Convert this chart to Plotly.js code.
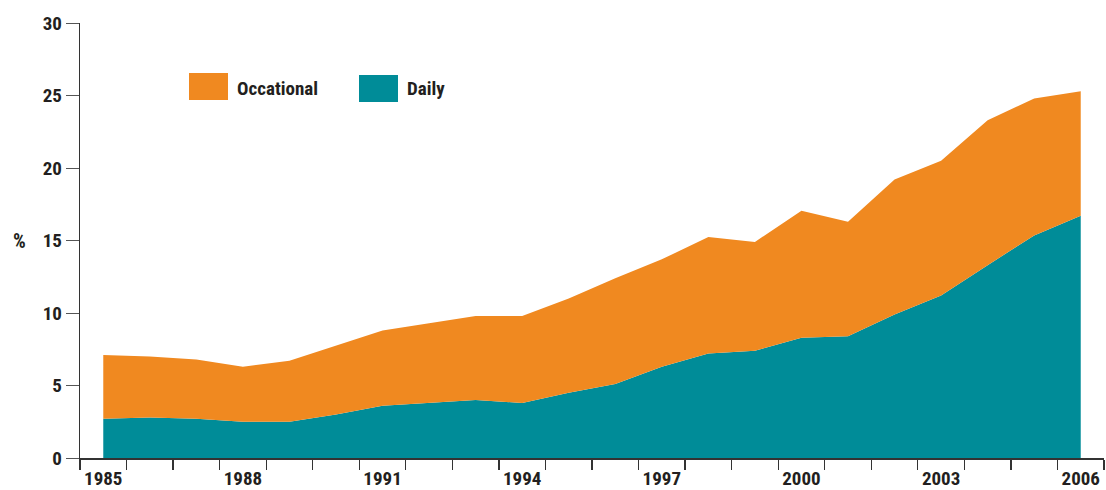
<!DOCTYPE html>
<html>
<head>
<meta charset="utf-8">
<script src="https://cdn.plot.ly/plotly-3.0.1.min.js"></script>
<style>html,body{margin:0;padding:0;background:#fff;}#chart{width:1106px;height:490px;}</style>
</head>
<body>
<div id="chart"></div>
<script>
const years = [1985,1986,1987,1988,1989,1990,1991,1992,1993,1994,1995,1996,1997,1998,1999,2000,2001,2002,2003,2004,2005,2006];
const daily = [2.7,2.8,2.7,2.5,2.5,3.0,3.6,3.8,4.0,3.8,4.5,5.1,6.3,7.2,7.4,8.3,8.4,9.9,11.2,13.3,15.35,16.7];
const occasional = [4.4,4.2,4.1,3.8,4.2,4.75,5.2,5.5,5.8,6.0,6.5,7.3,7.4,8.05,7.5,8.75,7.9,9.3,9.3,10.0,9.45,8.6];
const seriesNames = ["Occational","Daily"];
const xTickLabels = [1985,1988,1991,1994,1997,2000,2003,2006];
const yTicks = [0,5,10,15,20,25,30];

const ORANGE = "rgb(240,137,32)";
const TEAL = "rgb(0,140,152)";
const FONT = "'Liberation Sans Narrow', 'Roboto Condensed', 'DejaVu Sans Condensed', Arial, sans-serif";
const TXT = "#231F20";
const FS = 19;

const traces = [
  {x: years, y: daily, name: seriesNames[1], type: "scatter", mode: "lines", stackgroup: "one",
   line: {width: 0, color: TEAL}, fillcolor: TEAL, showlegend: false, hoverinfo: "x+y"},
  {x: years, y: occasional, name: seriesNames[0], type: "scatter", mode: "lines", stackgroup: "one",
   line: {width: 0, color: ORANGE}, fillcolor: ORANGE, showlegend: false, hoverinfo: "x+y"}
];

const layout = {
  width: 1106, height: 490,
  margin: {l: 80, r: 2, t: 23, b: 32},
  paper_bgcolor: "#fff", plot_bgcolor: "#fff",
  font: {family: FONT, size: FS, color: TXT, weight: "bold"},
  xaxis: {
    range: [1984.5, 2006.5], showgrid: false, zeroline: false,
    tickmode: "array", tickvals: xTickLabels, ticktext: xTickLabels.map(String),
    ticks: "outside", ticklen: 3, tickcolor: "rgba(0,0,0,0)",
    showline: true, linecolor: "#333", linewidth: 1.5,
    tickfont: {family: FONT, size: FS, color: TXT, weight: "bold"},
    minor: {tickmode: "linear", tick0: 1984.5, dtick: 1, ticks: "outside", ticklen: 10, tickwidth: 1.3, tickcolor: "#333", showgrid: false}
  },
  yaxis: {
    range: [0, 30], showgrid: false, zeroline: false,
    tickmode: "array", tickvals: yTicks,
    ticks: "outside", ticklen: 13, tickwidth: 1, tickcolor: "#555",
    showline: true, linecolor: "#333", linewidth: 1.3,
    tickfont: {family: FONT, size: FS, color: TXT, weight: "bold"}
  },
  shapes: [
    {type: "rect", xref: "paper", yref: "paper", x0: (189-80)/1024, x1: (228-80)/1024, y0: (458-100)/435, y1: (458-73)/435, fillcolor: ORANGE, line: {width: 0}},
    {type: "rect", xref: "paper", yref: "paper", x0: (359-80)/1024, x1: (398-80)/1024, y0: (458-102)/435, y1: (458-75)/435, fillcolor: TEAL, line: {width: 0}}
  ],
  annotations: [
    {xref: "paper", yref: "paper", x: (235-80)/1024, y: (458-88)/435, xanchor: "left", yanchor: "middle", text: seriesNames[0], showarrow: false, font: {family: FONT, size: FS, color: TXT, weight: "bold"}},
    {xref: "paper", yref: "paper", x: (405-80)/1024, y: (458-89)/435, xanchor: "left", yanchor: "middle", text: seriesNames[1], showarrow: false, font: {family: FONT, size: FS, color: TXT, weight: "bold"}},
    {xref: "paper", yref: "y", x: -61/1024, y: 15, xanchor: "center", yanchor: "middle", text: "%", showarrow: false, font: {family: FONT, size: FS + 1, color: TXT, weight: "bold"}}
  ]
};

Plotly.newPlot("chart", traces, layout, {displayModeBar: false, staticPlot: true});
</script>
</body>
</html>
